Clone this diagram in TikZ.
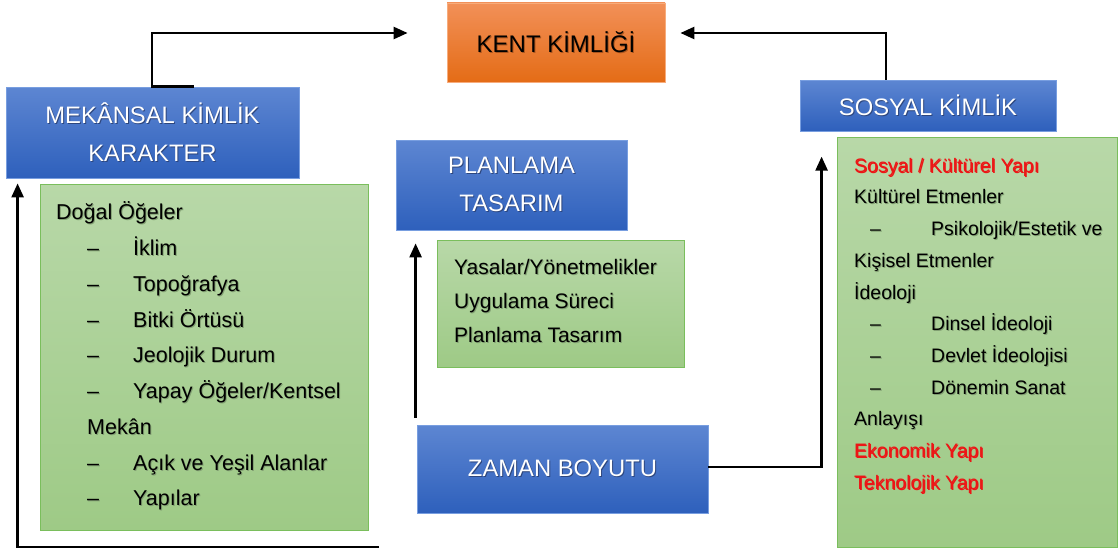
\documentclass[tikz,border=0pt]{standalone}
\usepackage{fontspec}
\setmainfont{Liberation Sans}
\usetikzlibrary{arrows.meta}

\definecolor{bluetop}{RGB}{93,134,210}
\definecolor{bluebot}{RGB}{46,96,188}
\definecolor{blueedge}{RGB}{120,158,224}
\definecolor{orgtop}{RGB}{242,144,88}
\definecolor{orgbot}{RGB}{228,108,22}
\definecolor{orgedge}{RGB}{247,172,124}
\definecolor{grtop}{RGB}{184,216,168}
\definecolor{grbot}{RGB}{158,202,134}
\definecolor{gredge}{RGB}{122,190,92}
\definecolor{txtred}{RGB}{236,22,22}
\definecolor{bsh}{RGB}{45,70,125}
\definecolor{gsh}{RGB}{130,160,115}
\definecolor{rsh}{RGB}{170,90,70}
\definecolor{osh}{RGB}{170,85,30}

% text with a soft drop shadow
\newcommand\shd[2]{\leavevmode\rlap{\color{#1}\kern1pt\raisebox{-1pt}{#2}}#2}
% dashed list entry: dash position, text position
\newcommand\dashline[3]{\hspace*{#1}\makebox[#2][l]{–}#3}

\tikzset{
  bluebox/.style={draw=blueedge, line width=0.8pt, top color=bluetop,
    bottom color=bluebot, text=white, align=center, inner sep=0pt,
    font=\fontsize{23.8}{37.5}\selectfont},
  orangebox/.style={draw=orgedge, line width=0.8pt, top color=orgtop,
    bottom color=orgbot, text=black, inner sep=0pt,
    font=\fontsize{24}{28}\selectfont},
  greenbox/.style={draw=gredge, line width=0.8pt, top color=grtop,
    bottom color=grbot, inner sep=0pt},
  listtext/.style={anchor=north west, align=left, inner sep=0pt, text=black},
  link/.style={line width=2.5pt, -{Triangle[length=14pt,width=12pt]}},
}

\begin{document}
\begin{tikzpicture}[x=1pt,y=-1pt]
\useasboundingbox (0,0) rectangle (1118,551);

% boxes
\node[orangebox, minimum width=218pt, minimum height=79pt] (kent) at (556,42.5)
  {\shd{osh}{KENT KİMLİĞİ}};
\node[bluebox, minimum width=293pt, minimum height=91pt] (mek) at (152.5,132.5)
  {\shd{bsh}{MEKÂNSAL KİMLİK}\\\shd{bsh}{KARAKTER}};
\node[bluebox, minimum width=256pt, minimum height=51pt] (sos) at (928,105.5)
  {\shd{bsh}{SOSYAL KİMLİK}};
\node[bluebox, minimum width=231pt, minimum height=90pt] (plan) at (511.5,185)
  {\shd{bsh}{PLANLAMA}\\\shd{bsh}{TASARIM}};
\node[bluebox, minimum width=291pt, minimum height=88pt] (zaman) at (562.5,469)
  {\shd{bsh}{ZAMAN BOYUTU}};

\node[greenbox, minimum width=328pt, minimum height=346pt] (gleft) at (204,357) {};
\node[greenbox, minimum width=247pt, minimum height=127pt] (gmid) at (560.5,303.5) {};
\node[greenbox, minimum width=280pt, minimum height=410pt] (gright) at (977,342) {};

% list contents
\node[listtext, font=\fontsize{21.5}{35.75}\selectfont] (lleft) at (56,199.7) {%
  \rule{0pt}{20pt}\shd{gsh}{Doğal Öğeler}\\
  \shd{gsh}{\dashline{31pt}{46pt}{İklim}}\\
  \shd{gsh}{\dashline{31pt}{46pt}{Topoğrafya}}\\
  \shd{gsh}{\dashline{31pt}{46pt}{Bitki Örtüsü}}\\
  \shd{gsh}{\dashline{31pt}{46pt}{Jeolojik Durum}}\\
  \shd{gsh}{\dashline{31pt}{46pt}{Yapay Öğeler/Kentsel}}\\
  \shd{gsh}{\hspace*{31pt}Mekân}\\
  \shd{gsh}{\dashline{31pt}{46pt}{Açık ve Yeşil Alanlar}}\\
  \shd{gsh}{\dashline{31pt}{46pt}{Yapılar}}};

\node[listtext, font=\fontsize{21}{34}\selectfont] (lmid) at (454,254.5) {%
  \rule{0pt}{20pt}\shd{gsh}{Yasalar/Yönetmelikler}\\
  \shd{gsh}{Uygulama Süreci}\\
  \shd{gsh}{Planlama Tasarım}};

\node[listtext, font=\fontsize{19.5}{31.7}\selectfont] (lright) at (854,152) {%
  \rule{0pt}{20pt}\shd{rsh}{\color{txtred}Sosyal / Kültürel Yapı}\\
  \shd{gsh}{Kültürel Etmenler}\\
  \shd{gsh}{\dashline{16pt}{61pt}{Psikolojik/Estetik ve}}\\
  \shd{gsh}{Kişisel Etmenler}\\
  \shd{gsh}{İdeoloji}\\
  \shd{gsh}{\dashline{16pt}{61pt}{Dinsel İdeoloji}}\\
  \shd{gsh}{\dashline{16pt}{61pt}{Devlet İdeolojisi}}\\
  \shd{gsh}{\dashline{16pt}{61pt}{Dönemin Sanat}}\\
  \shd{gsh}{Anlayışı}\\
  \shd{rsh}{\color{txtred}Ekonomik Yapı}\\
  \shd{rsh}{\color{txtred}Teknolojik Yapı}};

% connectors
\draw[link] ([xshift=41.5pt]mek.north) -- ([xshift=-0.5pt]mek.north)
  |- ([xshift=-39pt,yshift=9.5pt]kent.west);
\draw[link] ([xshift=-42pt]sos.north) |- ([xshift=15pt,yshift=9.5pt]kent.east);
\draw[link] ([yshift=2pt]zaman.east) -| ([xshift=-15pt,yshift=-20pt]gright.north west);
\draw[link] ([xshift=-1pt,yshift=7pt]zaman.north west)
  -- ([xshift=20pt,yshift=-13pt]plan.south west);
\coordinate (tail) at (379,547);
\draw[link] (tail) -| ([xshift=12pt,yshift=-5pt]mek.south west);
\end{tikzpicture}
\end{document}
